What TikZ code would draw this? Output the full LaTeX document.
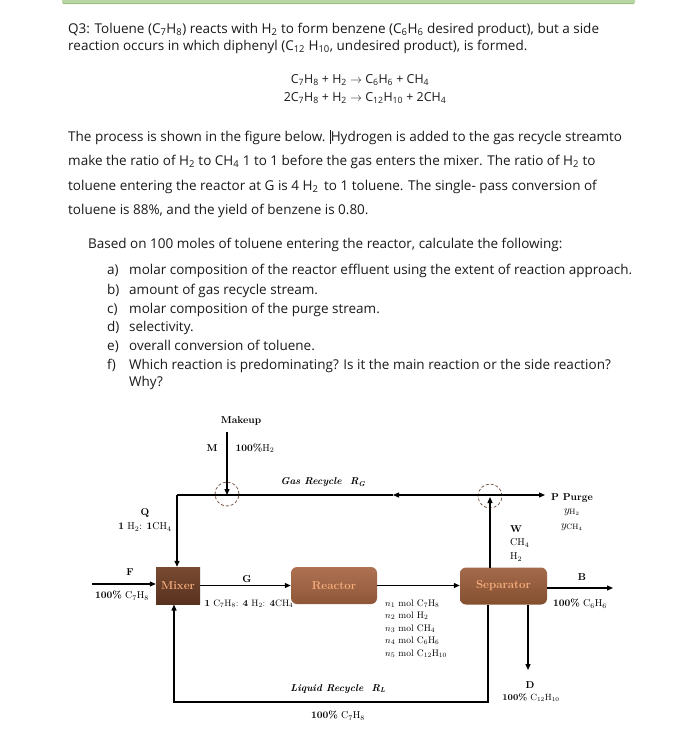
\documentclass[tikz,border=0pt]{standalone}
\usepackage{fontspec}
\newfontfamily\bodyfont{Open Sans}
\usetikzlibrary{arrows.meta}
\definecolor{barg}{HTML}{B9D6A5}
\definecolor{barge}{HTML}{9DC087}
\definecolor{mixtop}{HTML}{7A4A31}
\definecolor{mixbot}{HTML}{573220}
\definecolor{reatop}{HTML}{AE7152}
\definecolor{reabot}{HTML}{8E5738}
\definecolor{septop}{HTML}{A46A4B}
\definecolor{sepbot}{HTML}{83502F}
\definecolor{boxtxt}{HTML}{F8AE7C}
\definecolor{junc}{HTML}{7A5A4A}
\definecolor{ink}{HTML}{1A1A1A}
\begin{document}
\begin{tikzpicture}[x=1pt,y=-1pt,
  body/.style={anchor=base west,inner sep=0pt,text=ink,font=\bodyfont\fontsize{13.5}{15}\selectfont},
  eqn/.style={anchor=base,inner sep=0pt,text=ink,font=\bodyfont\fontsize{12.4}{14}\selectfont},
  lbl/.style={inner sep=0pt,font=\fontsize{10}{11}\selectfont},
  blbl/.style={inner sep=0pt,font=\bfseries\fontsize{10}{11}\selectfont},
  small/.style={inner sep=0pt,anchor=base west,font=\fontsize{9.5}{10}\selectfont},
  flow/.style={line width=1.2pt,-{Triangle[length=6pt,width=5pt]}},
  plain/.style={line width=1.2pt},
  unitbox/.style={minimum width=#1,minimum height=37pt,inner sep=0pt,
     font=\bfseries\fontsize{11.5}{12}\selectfont,text=boxtxt},
  junction/.style={circle,draw=junc,densely dashed,line width=0.8pt,minimum size=24pt,inner sep=0pt}
]
\useasboundingbox (0,0) rectangle (697,736);
\fill[white] (0,0) rectangle (697,736);
% top bar
\fill[barg,rounded corners=2pt] (62,-3) rectangle (635,4);
\draw[barge,line width=0.8pt] (63,3.6) -- (634,3.6);

% ---- text ----
\node[body] (t1) at (68,33) {Q3: Toluene (C\textsubscript{7}H\textsubscript{8}) reacts with H\textsubscript{2} to form benzene (C\textsubscript{6}H\textsubscript{6} desired product), but a side};
\node[body] (t2) at (68,50) {reaction occurs in which diphenyl (C\textsubscript{12} H\textsubscript{10}, undesired product), is formed.};
\node[eqn] (e1) at (360,83) {C\textsubscript{7}H\textsubscript{8} + H\textsubscript{2} $\rightarrow$ C\textsubscript{6}H\textsubscript{6} + CH\textsubscript{4}};
\node[eqn] (e2) at (365,101) {2C\textsubscript{7}H\textsubscript{8} + H\textsubscript{2} $\rightarrow$ C\textsubscript{12}H\textsubscript{10} + 2CH\textsubscript{4}};
\node[body] (p1) at (68,141) {The process is shown in the figure below. \rule[-2.5pt]{0.7pt}{13.5pt}Hydrogen is added to the gas recycle streamto};
\node[body] (p2) at (68,165) {make the ratio of H\textsubscript{2} to CH\textsubscript{4} 1 to 1 before the gas enters the mixer. The ratio of H\textsubscript{2} to};
\node[body] (p3) at (68,190) {toluene entering the reactor at G is 4 H\textsubscript{2}\, to 1 toluene. The single- pass conversion of};
\node[body] (p4) at (68,214) {toluene is 88\%, and the yield of benzene is 0.80.};
\node[body] (b0) at (88,248) {Based on 100 moles of toluene entering the reactor, calculate the following:};
\node[body] (la) at (107,274) {a)};
\node[body] (ia) at (129,274) {molar composition of the reactor effluent using the extent of reaction approach.};
\node[body] (lb) at (107,294) {b)};
\node[body] (ib) at (129,294) {amount of gas recycle stream.};
\node[body] (lc) at (107,313) {c)};
\node[body] (ic) at (129,313) {molar composition of the purge stream.};
\node[body] (ld) at (107,331) {d)};
\node[body] (id) at (129,331) {selectivity.};
\node[body] (le) at (107,350) {e)};
\node[body] (ie) at (129,350) {overall conversion of toluene.};
\node[body] (lf) at (107,369) {f)};
\node[body] (if) at (129,369) {Which reaction is predominating? Is it the main reaction or the side reaction?};
\node[body] (iw) at (129,386) {Why?};

% ---- units ----
\node[unitbox=44pt,top color=mixtop,bottom color=mixbot] (mixer) at (178,585.5) {Mixer};
\node[unitbox=86pt,rounded corners=6pt,top color=reatop,bottom color=reabot] (reactor) at (334,585.5) {Reactor};
\node[unitbox=87pt,rounded corners=6pt,top color=septop,bottom color=sepbot] (sep) at (503.5,586) {Separator};
\node[junction] (junL) at (227,494) {};
\node[junction] (junR) at (490,496) {};

% ---- coordinates ----
\coordinate (mk) at (227,432);
\coordinate (gmid) at (393,495);
\coordinate (qc) at (177,495);
\coordinate (pout) at (545,495);
\coordinate (fin) at (92,584);
\coordinate (bout) at (613,588);
\coordinate (dtop) at (528,605);
\coordinate (dout) at (528,670);
\coordinate (ltop) at (488,605);
\coordinate (lr) at (488,702);
\coordinate (ll) at (174,702);
\coordinate (lend) at (174,604.5);

% ---- connectors ----
\draw[flow] (mk) -- (227,495);
\draw[flow] (490,495) -- (gmid);
\draw[plain] (gmid) -- (qc);
\draw[flow] (qc) -- (qc |- mixer.north);
\draw[flow] (490,495) -- (pout);
\draw[flow] (490,567.5) -- (490,497);
\draw[flow] (fin) -- (fin -| mixer.west);
\draw[flow] (mixer.east) -- (mixer.east -| reactor.west);
\draw[flow] (reactor.east) -- (reactor.east -| sep.west);
\draw[flow] (sep.east |- bout) -- (bout);
\draw[flow] (dtop) -- (dout);
\draw[flow] (ltop) -- (lr) -- (ll) -- (lend);

% ---- diagram labels ----
\node[blbl] (lmk) at (241,421) {Makeup};
\node[blbl] (lm) at (212,448) {M};
\node[lbl] (lmh) at (255,448) {\textbf{100\%}H\textsubscript{2}};
\node[lbl,font=\bfseries\itshape\fontsize{10}{11}\selectfont] (lgr) at (323,482) {Gas Recycle\ \ R\textsubscript{G}};
\node[blbl] (lq) at (145,513) {Q};
\node[lbl] (lqc) at (145,527) {\textbf{1} H\textsubscript{2}: \textbf{1}CH\textsubscript{4}};
\node[blbl] (lfl) at (130,572) {F};
\node[lbl] (lfc) at (122,596) {\textbf{100\%} C\textsubscript{7}H\textsubscript{8}};
\node[blbl] (lg) at (247,579) {G};
\node[lbl,font=\fontsize{9.3}{10}\selectfont] (lgc) at (249,604) {\textbf{1} C\textsubscript{7}H\textsubscript{8}: \textbf{4} H\textsubscript{2}: \textbf{4}CH\textsubscript{4}};
\node[small] (n1) at (385,606) {$n_1$ mol C\textsubscript{7}H\textsubscript{8}};
\node[small] (n2) at (385,618.5) {$n_2$ mol H\textsubscript{2}};
\node[small] (n3) at (385,631) {$n_3$ mol CH\textsubscript{4}};
\node[small] (n4) at (385,643.5) {$n_4$ mol C\textsubscript{6}H\textsubscript{6}};
\node[small] (n5) at (385,656) {$n_5$ mol C\textsubscript{12}H\textsubscript{10}};
\node[blbl] (lp) at (572,498) {P Purge};
\node[lbl,font=\fontsize{11}{12}\selectfont] (lyh) at (572,512) {$y_{\mathrm{H}_2}$};
\node[lbl,font=\fontsize{11}{12}\selectfont] (lyc) at (572,527) {$y_{\mathrm{CH}_4}$};
\node[blbl,anchor=west] (lw) at (510,529) {W};
\node[lbl,anchor=west] (lwc) at (510,543) {CH\textsubscript{4}};
\node[lbl,anchor=west] (lwh) at (510,557) {H\textsubscript{2}};
\node[blbl] (lbl) at (582,577) {B};
\node[lbl] (lbc) at (580,604) {\textbf{100\%} C\textsubscript{6}H\textsubscript{6}};
\node[blbl] (ldl) at (530,685) {D};
\node[lbl,font=\fontsize{9}{10}\selectfont] (ldc) at (531,698) {\textbf{100\%} C\textsubscript{12}H\textsubscript{10}};
\node[lbl,font=\bfseries\itshape\fontsize{10}{11}\selectfont] (llr) at (338,689) {Liquid Recycle\ \ R\textsubscript{L}};
\node[lbl] (llc) at (338,716) {\textbf{100\%} C\textsubscript{7}H\textsubscript{8}};
\end{tikzpicture}
\end{document}
